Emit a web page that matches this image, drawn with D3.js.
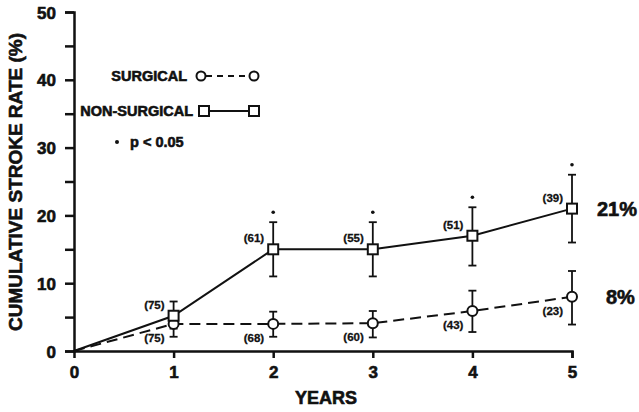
<!DOCTYPE html>
<html>
<head>
<meta charset="utf-8">
<script src="https://cdn.jsdelivr.net/npm/d3@7"></script>
<style>
  body { margin: 0; background: #fff; }
  text { font-family: "Liberation Sans", Arial, sans-serif; font-weight: bold; fill: #111;
         stroke: #111; stroke-width: 0.6px; paint-order: stroke; }
</style>
</head>
<body>
<div id="chart"></div>
<script>
const years = [0, 1, 2, 3, 4, 5]

const nonSurgical = [0, 5.2, 15, 15, 17, 21]
const nonSurgicalLow = [null, 3.3, 11, 11, 12.6, 16]
const nonSurgicalHigh = [null, 7.3, 19, 19, 21.2, 26]
const nonSurgicalN = [null, "(75)", "(61)", "(55)", "(51)", "(39)"]
const nonSurgicalSig = [false, false, true, true, true, true]

const surgical = [0, 4, 4, 4.1, 5.9, 8]
const surgicalLow = [null, 2.1, 2.1, 2, 2.8, 3.9]
const surgicalHigh = [null, 5.9, 5.8, 5.9, 8.9, 11.8]
const surgicalN = [null, "(75)", "(68)", "(60)", "(43)", "(23)"]

const yTicks = [0, 10, 20, 30, 40, 50]
const yMinorTicks = [5, 15, 25, 35, 45]
const xTicks = [0, 1, 2, 3, 4, 5]

const width = 639, height = 412
const font = "'Liberation Sans', Arial, sans-serif"

const svg = d3.select("#chart")
    .append("svg")
    .attr("width", width)
    .attr("height", height)

const x = d3.scaleLinear().domain([0, 5]).range([74, 572])
const y = d3.scaleLinear().domain([0, 50]).range([351, 12])

// axes
const yAxis = svg.append("g").attr("transform", `translate(${x(0)},0)`)
yAxis.call(d3.axisLeft(y).tickValues(yTicks).tickSize(9).tickPadding(9).tickFormat(d3.format("d")))
yAxis.append("g").call(d3.axisLeft(y).tickValues(yMinorTicks).tickSize(9).tickFormat(""))
yAxis.selectAll(".domain").filter((d, i) => i > 0).remove()
yAxis.selectAll(".domain").attr("stroke", "#111").attr("stroke-width", 2.5)
yAxis.selectAll(".tick line").attr("stroke", "#111").attr("stroke-width", 2.5)
yAxis.selectAll(".tick text").style("font-size", "17px").style("font-weight", "bold")
    .style("font-family", font).attr("dy", "0.36em")

const xAxis = svg.append("g").attr("transform", `translate(0,${y(0)})`)
xAxis.call(d3.axisBottom(x).tickValues(xTicks).tickSize(7).tickPadding(8).tickFormat(d3.format("d")))
xAxis.select(".domain").attr("stroke", "#111").attr("stroke-width", 2.5)
xAxis.selectAll(".tick line").attr("stroke", "#111").attr("stroke-width", 2.5)
xAxis.selectAll(".tick line").filter(d => d === 0).remove()
xAxis.selectAll(".tick text").style("font-size", "17px").style("font-weight", "bold")
    .style("font-family", font)

svg.append("text")
    .attr("x", 326).attr("y", 404)
    .attr("text-anchor", "middle")
    .style("font-size", "18px")
    .text("YEARS")

svg.append("text")
    .attr("transform", "translate(22,182) rotate(-90)")
    .attr("text-anchor", "middle")
    .style("font-size", "19px")
    .text("CUMULATIVE STROKE RATE (%)")

// lines
const line = d3.line().x((d, i) => x(years[i])).y(d => y(d))

svg.append("path")
    .datum(surgical)
    .attr("d", line)
    .attr("fill", "none")
    .attr("stroke", "#111")
    .attr("stroke-width", 2)
    .attr("stroke-dasharray", "11,6")

svg.append("path")
    .datum(nonSurgical)
    .attr("d", line)
    .attr("fill", "none")
    .attr("stroke", "#111")
    .attr("stroke-width", 2)

// error bars
function errorBars(lows, highs) {
  const g = svg.append("g").attr("stroke", "#111").attr("stroke-width", 1.8)
  years.forEach((yr, i) => {
    if (lows[i] == null) return
    const cx = x(yr)
    g.append("line").attr("x1", cx).attr("x2", cx).attr("y1", y(lows[i])).attr("y2", y(highs[i]))
    g.append("line").attr("x1", cx - 4).attr("x2", cx + 4).attr("y1", y(lows[i])).attr("y2", y(lows[i]))
    g.append("line").attr("x1", cx - 4).attr("x2", cx + 4).attr("y1", y(highs[i])).attr("y2", y(highs[i]))
  })
}
errorBars(surgicalLow, surgicalHigh)
errorBars(nonSurgicalLow, nonSurgicalHigh)

// markers
svg.append("g").selectAll("circle")
    .data(surgical.slice(1))
    .join("circle")
    .attr("cx", (d, i) => x(years[i + 1]))
    .attr("cy", d => y(d))
    .attr("r", 5)
    .attr("fill", "#fff")
    .attr("stroke", "#111")
    .attr("stroke-width", 2)

svg.append("g").selectAll("rect")
    .data(nonSurgical.slice(1))
    .join("rect")
    .attr("x", (d, i) => x(years[i + 1]) - 5)
    .attr("y", d => y(d) - 5)
    .attr("width", 10)
    .attr("height", 10)
    .attr("fill", "#fff")
    .attr("stroke", "#111")
    .attr("stroke-width", 2)

// sample size labels
svg.append("g").selectAll("text")
    .data(nonSurgicalN.slice(1))
    .join("text")
    .attr("x", (d, i) => x(years[i + 1]) - 9)
    .attr("y", (d, i) => y(nonSurgical[i + 1]) - 7)
    .attr("text-anchor", "end")
    .style("font-size", "11.5px")
    .style("stroke-width", "0.3px")
    .text(d => d)

svg.append("g").selectAll("text")
    .data(surgicalN.slice(1))
    .join("text")
    .attr("x", (d, i) => x(years[i + 1]) - 9)
    .attr("y", (d, i) => y(surgical[i + 1]) + 18)
    .attr("text-anchor", "end")
    .style("font-size", "11.5px")
    .style("stroke-width", "0.3px")
    .text(d => d)

// significance marks
svg.append("g").selectAll("circle")
    .data(years.filter((d, i) => nonSurgicalSig[i]))
    .join("circle")
    .attr("cx", d => x(d))
    .attr("cy", d => y(nonSurgicalHigh[years.indexOf(d)]) - 10)
    .attr("r", 1.8)
    .attr("fill", "#111")

// end labels
svg.append("text")
    .attr("x", 597).attr("y", y(21) + 7)
    .style("font-size", "20px")
    .text("21%")
svg.append("text")
    .attr("x", 606).attr("y", y(8) + 7)
    .style("font-size", "20px")
    .text("8%")

// legend
const legend = svg.append("g")
legend.append("text").attr("x", 187).attr("y", 81).attr("text-anchor", "end")
    .style("font-size", "14.5px").text("SURGICAL")
legend.append("line").attr("x1", 201).attr("x2", 254).attr("y1", 76).attr("y2", 76)
    .attr("stroke", "#111").attr("stroke-width", 2).attr("stroke-dasharray", "6,5").attr("stroke-dashoffset", -5)
legend.selectAll("circle").data([201, 254]).join("circle")
    .attr("cx", d => d).attr("cy", 76).attr("r", 4.5)
    .attr("fill", "#fff").attr("stroke", "#111").attr("stroke-width", 2)

legend.append("text").attr("x", 193).attr("y", 116).attr("text-anchor", "end")
    .style("font-size", "14.5px").text("NON-SURGICAL")
legend.append("line").attr("x1", 204).attr("x2", 254).attr("y1", 111).attr("y2", 111)
    .attr("stroke", "#111").attr("stroke-width", 2)
legend.selectAll("rect").data([204, 254]).join("rect")
    .attr("x", d => d - 5).attr("y", 106).attr("width", 10).attr("height", 10)
    .attr("fill", "#fff").attr("stroke", "#111").attr("stroke-width", 2)

legend.append("circle").attr("cx", 117).attr("cy", 142).attr("r", 2).attr("fill", "#111")
legend.append("text").attr("x", 130).attr("y", 147)
    .style("font-size", "14.5px").text("p < 0.05")
</script>
</body>
</html>
